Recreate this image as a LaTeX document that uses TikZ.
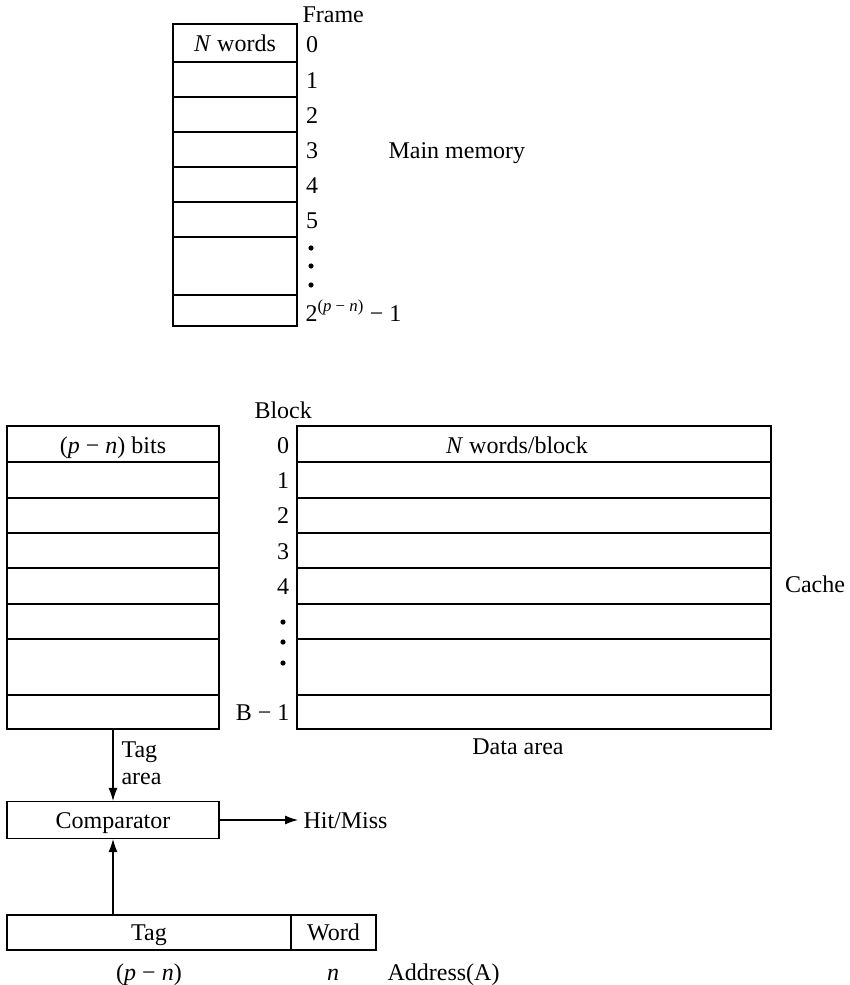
\documentclass[tikz,border=0pt]{standalone}
\usepackage{fontspec}
\setmainfont{Liberation Serif}
\usetikzlibrary{arrows.meta}
\begin{document}
\begin{tikzpicture}[x=1pt,y=-1pt,line width=1.1pt,
  box/.style={draw,rectangle,inner sep=0pt,font=\fontsize{24}{28}\selectfont},
  boxtxt/.style={inner sep=0pt,text height=16pt,text depth=0pt,font=\fontsize{24}{28}\selectfont},
  lbl/.style={inner sep=0pt,text height=16pt,text depth=0pt,font=\fontsize{24}{27}\selectfont},
  mlbl/.style={inner sep=0pt,font=\fontsize{24}{27}\selectfont},
  arr/.style={-{Latex[length=13pt,width=9pt]},line width=1.1pt},
  dot/.style={fill=black}]
\useasboundingbox (0,0) rectangle (850,985);
% ---------- Main memory ----------
\node[box,minimum width=124pt,minimum height=302pt] (mm) at (235,175) {};
\foreach \y in {62,97,132,167,202,237,295} \draw (173,\y) -- (297,\y);
\node[lbl] (nw) at (235,43) {\textit{N} words};
\node[lbl,anchor=west] (frame) at (302,15) {Frame};
\node[lbl] (f0) at (312,44) {0};
\node[lbl] (f1) at (312,80) {1};
\node[lbl] (f2) at (312,115) {2};
\node[lbl] (f3) at (312,150) {3};
\node[lbl] (f4) at (312,185) {4};
\node[lbl] (f5) at (312,220) {5};
\fill[dot] (311,248) circle (2.6pt);
\fill[dot] (311,266) circle (2.6pt);
\fill[dot] (311,285) circle (2.6pt);
\node[lbl,anchor=west] (flast) at (305,313) {2\textsuperscript{(\textit{p} − \textit{n})} − 1};
\node[lbl,anchor=west] (mmlbl) at (388,150) {Main memory};
% ---------- Cache ----------
\node[box,minimum width=212pt,minimum height=303pt] (tagbox) at (113,577.5) {};
\node[box,minimum width=474pt,minimum height=303pt] (databox) at (534,577.5) {};
\foreach \y in {462,498,533,568,604,639,695} {
  \draw (7,\y) -- (219,\y);
  \draw (297,\y) -- (771,\y);
}
\node[lbl] (bits) at (113,445) {(\textit{p} − \textit{n}) bits};
\node[lbl] (nwb) at (517,445) {\textit{N} words/block};
\node[lbl,anchor=west] (block) at (254,410) {Block};
\node[lbl] (b0) at (283,445) {0};
\node[lbl] (b1) at (283,480) {1};
\node[lbl] (b2) at (283,515) {2};
\node[lbl] (b3) at (283,551) {3};
\node[lbl] (b4) at (283,586) {4};
\fill[dot] (283,622) circle (2.6pt);
\fill[dot] (283,642) circle (2.6pt);
\fill[dot] (283,663) circle (2.6pt);
\node[lbl,anchor=east] (blast) at (290,712) {B − 1};
\node[lbl] (cache) at (815,584) {Cache};
\node[lbl] (darea) at (518,746) {Data area};
\node[mlbl,anchor=west,align=left] (tarea) at (121,763) {Tag\\area};
% ---------- Comparator ----------
\node[box,minimum width=212pt,minimum height=37pt] (comp) at (113,820) {};
\node[boxtxt] (comptxt) at (comp.center) {Comparator};
\node[lbl,anchor=west] (hm) at (303,820) {Hit/Miss};
\draw[arr] (tagbox.south) -- (comp.north);
\draw[arr,shorten >=5pt] (comp.east) -- (hm.west);
% ---------- Address ----------
\node[box,minimum width=284pt,minimum height=35pt] (atag) at (149,932.5) {};
\node[box,minimum width=85pt,minimum height=35pt] (aword) at (333.5,932.5) {};
\node[boxtxt] (atagtxt) at (atag.center) {Tag};
\node[boxtxt] (awordtxt) at (aword.center) {Word};
\draw[arr] (comp.south |- atag.north) -- (comp.south);
\node[lbl] (pn) at (149,972) {(\textit{p} − \textit{n})};
\node[lbl] (nn) at (333,972) {\textit{n}};
\node[lbl,anchor=west] (addr) at (387,972) {Address(A)};
\end{tikzpicture}
\end{document}
